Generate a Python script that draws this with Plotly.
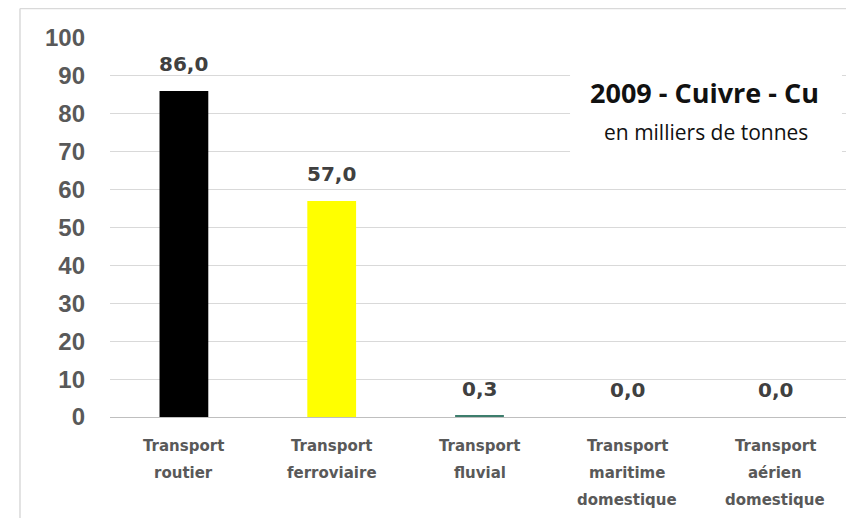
import plotly.graph_objects as go

categories = ["Transport routier", "Transport ferroviaire", "Transport fluvial",
              "Transport maritime domestique", "Transport aérien domestique"]
category_lines = [["Transport", "routier"], ["Transport", "ferroviaire"], ["Transport", "fluvial"],
                  ["Transport", "maritime", "domestique"], ["Transport", "aérien", "domestique"]]
values = [86.0, 57.0, 0.3, 0.0, 0.0]
labels = ["86,0", "57,0", "0,3", "0,0", "0,0"]
colors = ["#000000", "#FFFF00", "#3C7D6C", "#4472C4", "#4472C4"]
y_ticks = [0, 10, 20, 30, 40, 50, 60, 70, 80, 90, 100]

fig = go.Figure()
fig.add_trace(go.Bar(
    x=categories, y=values, marker=dict(color=colors, line=dict(width=0)),
    width=0.33, hoverinfo="skip"))

annotations = []
for cat, val, lab in zip(categories, values, labels):
    annotations.append(dict(x=cat, y=val, xref="x", yref="y", text=lab, showarrow=False,
                            xanchor="center", yanchor="middle", yshift=27,
                            font=dict(family="DejaVu Sans", size=20, color="#404040", weight="bold")))
for cat, lines in zip(categories, category_lines):
    for i, line in enumerate(lines):
        annotations.append(dict(x=cat, y=0, xref="x", yref="paper", text=line, showarrow=False,
                                xanchor="center", yanchor="middle", yshift=-29 - 27 * i,
                                font=dict(family="DejaVu Sans", size=15, color="#595959", weight="bold")))
annotations += [
    dict(text="2009 - Cuivre - Cu", xref="paper", yref="paper", x=0.805, y=0.855,
         xanchor="center", yanchor="middle", showarrow=False,
         font=dict(family="Open Sans", size=27, color="#111111", weight="bold")),
    dict(text="en milliers de tonnes", xref="paper", yref="paper", x=0.806, y=0.752,
         xanchor="center", yanchor="middle", showarrow=False,
         font=dict(family="Open Sans", size=21, color="#111111")),
]

fig.update_layout(
    width=854, height=518, plot_bgcolor="white", paper_bgcolor="white",
    margin=dict(l=102, r=13, t=30, b=109), showlegend=False,
    xaxis=dict(showgrid=False, showline=False, ticks="", showticklabels=False),
    yaxis=dict(range=[0, 100], tickvals=y_ticks, showgrid=True, gridcolor="#D9D9D9",
               gridwidth=1, zeroline=True, zerolinecolor="#BFBFBF", zerolinewidth=1,
               tickfont=dict(family="Liberation Sans, Arial", size=24, color="#595959", weight="bold"),
               ticklabelstandoff=24),
    annotations=annotations,
    shapes=[
        dict(type="rect", xref="paper", yref="paper", x0=0.6225, x1=0.9905, y0=0.665, y1=0.942,
             fillcolor="white", line=dict(width=0), layer="above"),
        dict(type="line", xref="paper", yref="paper", x0=-0.1218, x1=-0.1218, y0=-0.3, y1=1.078,
             line=dict(color="#D9D9D9", width=1.5)),
        dict(type="line", xref="paper", yref="paper", x0=-0.1218, x1=1.03, y0=1.078, y1=1.078,
             line=dict(color="#D9D9D9", width=1.5)),
    ],
)
fig.write_html("out.html")
